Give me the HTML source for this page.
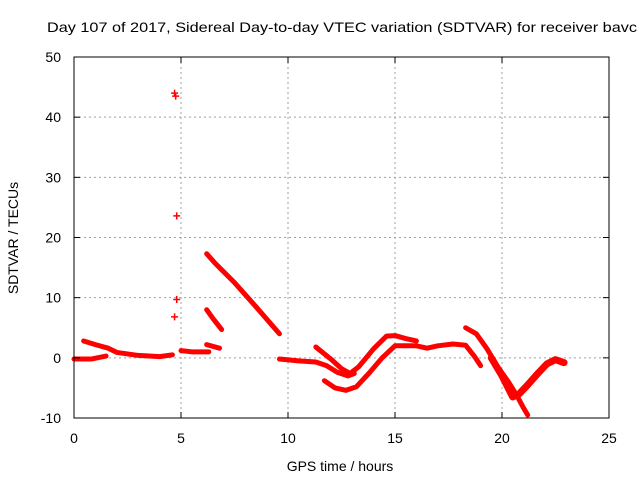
<!DOCTYPE html>
<html><head><meta charset="utf-8"><style>
html,body{margin:0;padding:0;background:#fff;}
svg{display:block;font-family:"Liberation Sans",sans-serif;}
</style></head><body>
<svg id="chart" width="640" height="480">
<text x="47" y="32" font-size="14" textLength="590" lengthAdjust="spacingAndGlyphs">Day 107 of 2017, Sidereal Day-to-day VTEC variation (SDTVAR) for receiver bavc</text>
<g id="grid"></g>
<g id="series"></g>
<rect x="74" y="57" width="535" height="361" fill="none" stroke="#000" stroke-width="1"/>
<g id="axes"></g>
<text x="340" y="471" font-size="14" text-anchor="middle">GPS time / hours</text>
<text transform="translate(18,238) rotate(-90)" font-size="14" text-anchor="middle">SDTVAR / TECUs</text>
</svg>
<script>
const xTicks=[0,5,10,15,20,25];
const yTicks=[-10,0,10,20,30,40,50];
const trackA=[[0,-0.2],[0.8,-0.2],[1.5,0.3]];
const trackB=[[0.45,2.8],[1,2.2],[1.6,1.6],[2,0.9],[3,0.4],[4,0.2],[4.6,0.5]];
const trackC=[[5,1.2],[5.5,1.0],[6.3,1.0]];
const trackD=[[6.2,2.2],[6.8,1.6]];
const trackE=[[6.2,8],[6.5,6.5],[6.9,4.7]];
const trackF=[[6.2,17.3],[6.6,15.7],[7.5,12.5],[8.5,8.5],[9.6,4]];
const trackG=[[9.6,-0.2],[10.5,-0.5],[11.3,-0.7],[11.8,-1.3],[12.3,-2.4],[12.8,-3],[13.1,-2.6]];
const trackH=[[11.3,1.8],[12,-0.2],[12.5,-1.8],[12.9,-2.6],[13.3,-1.5],[14,1.5],[14.6,3.6],[15,3.7],[15.5,3.2],[16,2.8]];
const trackL=[[11.7,-3.8],[12.2,-5],[12.7,-5.4],[13.2,-4.8],[13.8,-2.5],[14.4,0],[15,2],[16,2],[16.5,1.6],[17,2],[17.7,2.3],[18.3,2.1],[18.7,0.3],[19,-1.3]];
const trackI=[[18.3,5],[18.8,4],[19.3,1.5],[19.8,-1.5],[20.3,-4],[20.7,-6.3],[21,-8.3],[21.2,-9.5]];
const trackJ=[[19.5,0],[20,-3],[20.5,-6.5],[20.8,-6],[21.2,-4.5],[21.7,-2.5],[22.1,-1],[22.5,-0.3],[22.9,-0.8]];
const tracks=[trackA,trackB,trackC,trackD,trackE,trackF,trackG,trackH,trackL,trackI,trackJ];
const outliers=[[4.7,44],[4.75,43.5],[4.8,23.6],[4.8,9.7],[4.7,6.8]];

const X=h=>74+h*535/25;
const Y=v=>418-(v+10)*361/60;
const NS="http://www.w3.org/2000/svg";
const grid=document.getElementById('grid'),axes=document.getElementById('axes'),ser=document.getElementById('series');
function mk(tag,at,parent){const e=document.createElementNS(NS,tag);for(const k in at)e.setAttribute(k,at[k]);parent.appendChild(e);return e;}
xTicks.forEach(t=>{const x=X(t);
 if(t>0&&t<25){const g=mk('line',{x1:x,x2:x,y1:57,y2:418,stroke:'#a0a0a0','stroke-dasharray':'2,3'},grid);
 
 }
 mk('line',{x1:x,x2:x,y1:418,y2:412,stroke:'#000'},axes);
 mk('line',{x1:x,x2:x,y1:57,y2:63,stroke:'#000'},axes);
 const l=mk('text',{x:x,y:443,'font-size':14,'text-anchor':'middle'},axes);l.textContent=t;
 
 
});
yTicks.forEach(t=>{const y=Y(t);
 if(t>-10&&t<50){const g=mk('line',{x1:74,x2:609,y1:y,y2:y,stroke:'#a0a0a0','stroke-dasharray':'2,3'},grid);
 
 }
 mk('line',{x1:74,x2:80,y1:y,y2:y,stroke:'#000'},axes);
 mk('line',{x1:603,x2:609,y1:y,y2:y,stroke:'#000'},axes);
 const l=mk('text',{x:61,y:y+5,'font-size':14,'text-anchor':'end'},axes);l.textContent=t;
 
 
});
tracks.forEach((tr,i)=>{
 const p=mk('polyline',{points:tr.map(d=>X(d[0])+','+Y(d[1])).join(' '),fill:'none',stroke:'#ff0000','stroke-width':(i===10?7:5),'stroke-linejoin':'round','stroke-linecap':'round'},ser);
 
 
});
outliers.forEach(d=>{const x=X(d[0]),y=Y(d[1]);
 const p=mk('path',{d:`M${x-3.5},${y}H${x+3.5}M${x},${y-3.5}V${y+3.5}`,stroke:'#ff0000','stroke-width':1.5},ser);
 
 
});
</script>
</body></html>
